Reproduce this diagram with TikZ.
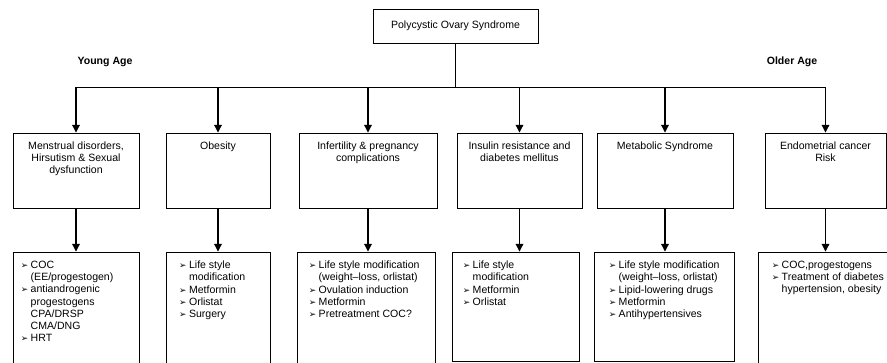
\documentclass[tikz,border=0pt]{standalone}
\usepackage{fontspec}
\setmainfont{Liberation Sans}
\newfontfamily\bulfont{DejaVu Sans}
\usetikzlibrary{arrows.meta, positioning}

\newcommand{\bitem}{\makebox[8.5pt][l]{\bulfont\fontsize{7.5}{7.5}\selectfont ➢}}
\newcommand{\bcont}{\hspace*{8.5pt}}

\tikzset{
  box/.style={draw, line width=0.8pt, inner sep=0pt},
  lbl/.style={inner sep=0pt, align=center, font=\fontsize{9}{10.5}\selectfont},
  lst/.style={inner sep=0pt, align=left, font=\fontsize{9}{10.5}\selectfont},
  age/.style={inner sep=0pt, font=\fontsize{9}{10.5}\selectfont\bfseries},
  arr/.style={line width=0.9pt, -{Triangle[length=6.5pt,width=6.5pt]}},
}

\begin{document}
\begin{tikzpicture}[x=0.03cm, y=-0.03cm]
    \useasboundingbox (0,0) rectangle (887,363);
    \clip (0,0) rectangle (887,363);

    % Top
    \node[box, lbl, minimum width=165*0.03cm, minimum height=34*0.03cm] (pcos) at (455.5,26) {Polycystic Ovary Syndrome};
    \node[age] (young) at (105,62) {Young Age};
    \node[age] (older) at (792,62) {Older Age};
    \coordinate (bus) at (0,87);

    % Conditions
    \node[box, minimum width=126*0.03cm, minimum height=75*0.03cm] (m1) at (76,170.5) {};
    \node[box, minimum width=104*0.03cm, minimum height=75*0.03cm] (m2) at (218,170.5) {};
    \node[box, minimum width=138*0.03cm, minimum height=75*0.03cm] (m3) at (368,170.5) {};
    \node[box, minimum width=125*0.03cm, minimum height=75*0.03cm] (m4) at (519.5,170.5) {};
    \node[box, minimum width=136*0.03cm, minimum height=75*0.03cm] (m5) at (665,170.5) {};
    \node[box, minimum width=121*0.03cm, minimum height=75*0.03cm] (m6) at (825.5,170.5) {};

    \node[lbl, below=0.26cm of m1.north] (m1t) {Menstrual disorders,\\Hirsutism \& Sexual\\dysfunction};
    \node[lbl, below=0.26cm of m2.north] (m2t) {Obesity};
    \node[lbl, below=0.26cm of m3.north] (m3t) {Infertility \& pregnancy\\complications};
    \node[lbl, below=0.26cm of m4.north] (m4t) {Insulin resistance and\\diabetes mellitus};
    \node[lbl, below=0.26cm of m5.north] (m5t) {Metabolic Syndrome};
    \node[lbl, below=0.26cm of m6.north] (m6t) {Endometrial cancer\\Risk};

    % Treatments
    \node[box, minimum width=126*0.03cm, minimum height=115*0.03cm] (t1) at (76,309.5) {};
    \node[box, minimum width=104*0.03cm, minimum height=115*0.03cm] (t2) at (218,309.5) {};
    \node[box, minimum width=138*0.03cm, minimum height=115*0.03cm] (t3) at (366,309.5) {};
    \node[box, minimum width=127*0.03cm, minimum height=109*0.03cm] (t4) at (515.5,306.5) {};
    \node[box, minimum width=140*0.03cm, minimum height=109*0.03cm] (t5) at (664,306.5) {};
    \node[box, minimum width=137*0.03cm, minimum height=115*0.03cm] (t6) at (826.5,309.5) {};

    \node[lst, below right=0.27cm and 0.24cm of t1.north west] (t1t)
        {\bitem COC\\\bcont (EE/progestogen)\\\bitem antiandrogenic\\\bcont progestogens\\\bcont CPA/DRSP\\\bcont CMA/DNG\\\bitem HRT};
    \node[lst, below right=0.27cm and 0.4cm of t2.north west] (t2t)
        {\bitem Life style\\\bcont modification\\\bitem Metformin\\\bitem Orlistat\\\bitem Surgery};
    \node[lst, below right=0.27cm and 0.36cm of t3.north west] (t3t)
        {\bitem Life style modification\\\bcont (weight--loss, orlistat)\\\bitem Ovulation induction\\\bitem Metformin\\\bitem Pretreatment COC?};
    \node[lst, below right=0.27cm and 0.33cm of t4.north west] (t4t)
        {\bitem Life style\\\bcont modification\\\bitem Metformin\\\bitem Orlistat};
    \node[lst, below right=0.27cm and 0.45cm of t5.north west] (t5t)
        {\bitem Life style modification\\\bcont (weight--loss, orlistat)\\\bitem Lipid-lowering drugs\\\bitem Metformin\\\bitem Antihypertensives};
    \node[lst, below right=0.27cm and 0.42cm of t6.north west] (t6t)
        {\bitem COC,progestogens\\\bitem Treatment of diabetes\\\bcont hypertension, obesity};

    % Connectors
    \draw[line width=0.8pt] (pcos.south) -- (pcos.south |- bus);
    \draw[line width=0.8pt] (m1.north |- bus) -- (m6.north |- bus);
    \foreach \i in {1,...,6} {
        \draw[arr] (m\i.north |- bus) -- (m\i.north);
        \draw[arr] (m\i.south) -- (m\i.south |- t\i.north);
    }
\end{tikzpicture}
\end{document}
